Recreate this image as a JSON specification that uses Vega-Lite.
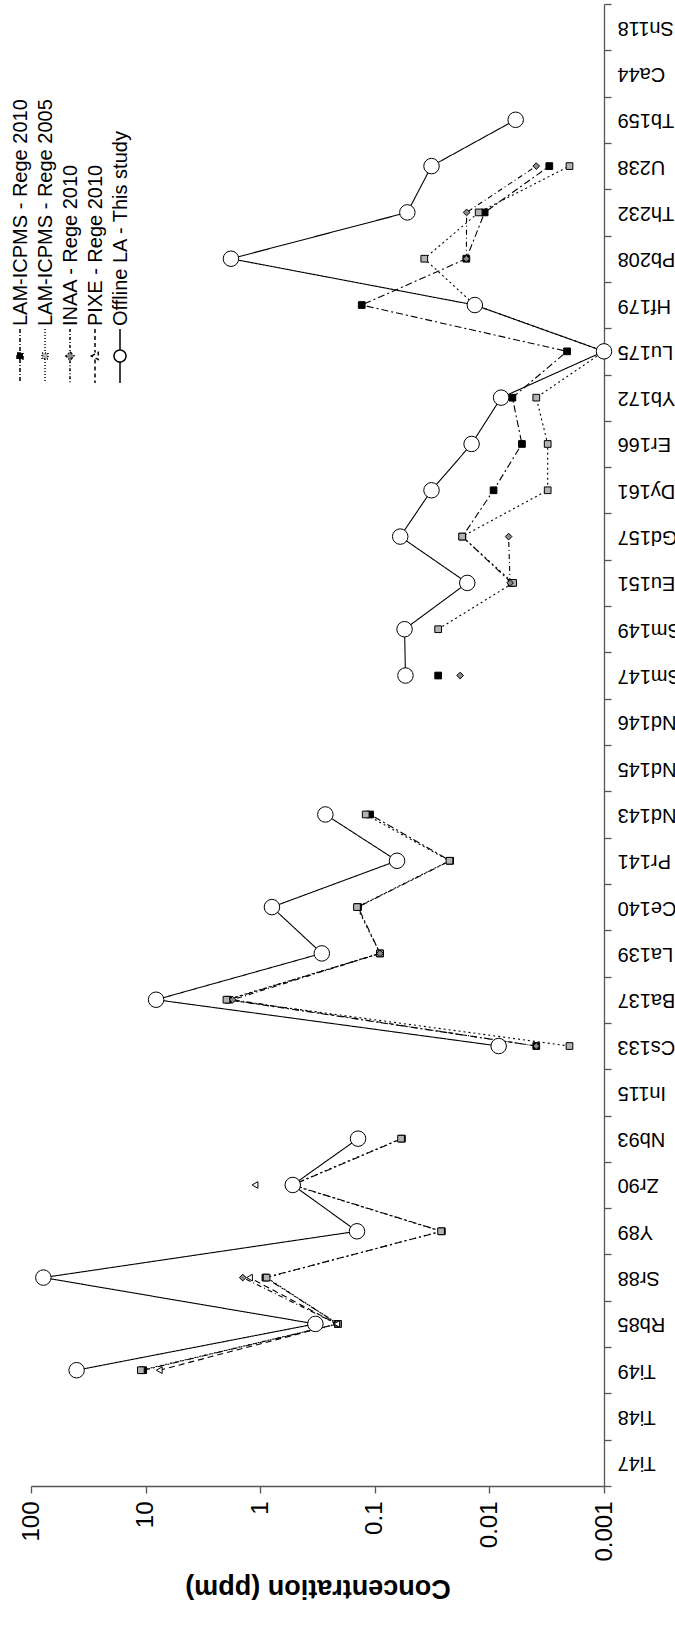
{
  "$schema": "https://vega.github.io/schema/vega-lite/v6.json",
  "width": 573,
  "height": 1482,
  "autosize": {"type": "none"},
  "padding": {"left": 31, "top": 4, "right": 71, "bottom": 156},
  "config": {"view": {"stroke": null}, "font": "Liberation Sans"},
  "data": {"values": [
    {"s": "LAM-ICPMS - Rege 2010", "iso": "Ti49", "v": 10.5},
    {"s": "LAM-ICPMS - Rege 2010", "iso": "Rb85", "v": 0.21},
    {"s": "LAM-ICPMS - Rege 2010", "iso": "Sr88", "v": 0.9},
    {"s": "LAM-ICPMS - Rege 2010", "iso": "Y89", "v": 0.026},
    {"s": "LAM-ICPMS - Rege 2010", "iso": "Zr90", "v": 0.52},
    {"s": "LAM-ICPMS - Rege 2010", "iso": "Nb93", "v": 0.058},
    {"s": "LAM-ICPMS - Rege 2010", "iso": "In115", "v": null},
    {"s": "LAM-ICPMS - Rege 2010", "iso": "Cs133", "v": 0.0039},
    {"s": "LAM-ICPMS - Rege 2010", "iso": "Ba137", "v": 1.9},
    {"s": "LAM-ICPMS - Rege 2010", "iso": "La139", "v": 0.09},
    {"s": "LAM-ICPMS - Rege 2010", "iso": "Ce140", "v": 0.14},
    {"s": "LAM-ICPMS - Rege 2010", "iso": "Pr141", "v": 0.022},
    {"s": "LAM-ICPMS - Rege 2010", "iso": "Nd143", "v": 0.11},
    {"s": "LAM-ICPMS - Rege 2010", "iso": "Nd145", "v": null},
    {"s": "LAM-ICPMS - Rege 2010", "iso": "Sm147", "v": 0.028},
    {"s": "LAM-ICPMS - Rege 2010", "iso": "Sm149", "v": null},
    {"s": "LAM-ICPMS - Rege 2010", "iso": "Eu151", "v": 0.0064},
    {"s": "LAM-ICPMS - Rege 2010", "iso": "Gd157", "v": 0.0172},
    {"s": "LAM-ICPMS - Rege 2010", "iso": "Dy161", "v": 0.0092},
    {"s": "LAM-ICPMS - Rege 2010", "iso": "Er166", "v": 0.0052},
    {"s": "LAM-ICPMS - Rege 2010", "iso": "Yb172", "v": 0.0063},
    {"s": "LAM-ICPMS - Rege 2010", "iso": "Lu175", "v": 0.0021},
    {"s": "LAM-ICPMS - Rege 2010", "iso": "Hf179", "v": 0.13},
    {"s": "LAM-ICPMS - Rege 2010", "iso": "Pb208", "v": 0.0159},
    {"s": "LAM-ICPMS - Rege 2010", "iso": "Th232", "v": 0.011},
    {"s": "LAM-ICPMS - Rege 2010", "iso": "U238", "v": 0.003},

    {"s": "LAM-ICPMS - Rege 2005", "iso": "Ti49", "v": 11},
    {"s": "LAM-ICPMS - Rege 2005", "iso": "Rb85", "v": 0.21},
    {"s": "LAM-ICPMS - Rege 2005", "iso": "Sr88", "v": 0.88},
    {"s": "LAM-ICPMS - Rege 2005", "iso": "Y89", "v": 0.0264},
    {"s": "LAM-ICPMS - Rege 2005", "iso": "Zr90", "v": 0.53},
    {"s": "LAM-ICPMS - Rege 2005", "iso": "Nb93", "v": 0.059},
    {"s": "LAM-ICPMS - Rege 2005", "iso": "In115", "v": null},
    {"s": "LAM-ICPMS - Rege 2005", "iso": "Cs133", "v": 0.002},
    {"s": "LAM-ICPMS - Rege 2005", "iso": "Ba137", "v": 1.97},
    {"s": "LAM-ICPMS - Rege 2005", "iso": "La139", "v": 0.09},
    {"s": "LAM-ICPMS - Rege 2005", "iso": "Ce140", "v": 0.143},
    {"s": "LAM-ICPMS - Rege 2005", "iso": "Pr141", "v": 0.0223},
    {"s": "LAM-ICPMS - Rege 2005", "iso": "Nd143", "v": 0.12},
    {"s": "LAM-ICPMS - Rege 2005", "iso": "Nd145", "v": null},
    {"s": "LAM-ICPMS - Rege 2005", "iso": "Sm149", "v": 0.028},
    {"s": "LAM-ICPMS - Rege 2005", "iso": "Eu151", "v": 0.0062},
    {"s": "LAM-ICPMS - Rege 2005", "iso": "Gd157", "v": 0.0173},
    {"s": "LAM-ICPMS - Rege 2005", "iso": "Dy161", "v": 0.0031},
    {"s": "LAM-ICPMS - Rege 2005", "iso": "Er166", "v": 0.0031},
    {"s": "LAM-ICPMS - Rege 2005", "iso": "Yb172", "v": 0.0039},
    {"s": "LAM-ICPMS - Rege 2005", "iso": "Lu175", "v": 0.001},
    {"s": "LAM-ICPMS - Rege 2005", "iso": "Hf179", "v": 0.0134},
    {"s": "LAM-ICPMS - Rege 2005", "iso": "Pb208", "v": 0.037},
    {"s": "LAM-ICPMS - Rege 2005", "iso": "Th232", "v": 0.0124},
    {"s": "LAM-ICPMS - Rege 2005", "iso": "U238", "v": 0.002},

    {"s": "INAA - Rege 2010", "iso": "Rb85", "v": 0.215},
    {"s": "INAA - Rege 2010", "iso": "Sr88", "v": 1.42},
    {"s": "INAA - Rege 2010", "iso": "Y89", "v": null},
    {"s": "INAA - Rege 2010", "iso": "Cs133", "v": 0.0039},
    {"s": "INAA - Rege 2010", "iso": "Ba137", "v": 1.74},
    {"s": "INAA - Rege 2010", "iso": "La139", "v": 0.09},
    {"s": "INAA - Rege 2010", "iso": "Ce140", "v": null},
    {"s": "INAA - Rege 2010", "iso": "Sm147", "v": 0.018},
    {"s": "INAA - Rege 2010", "iso": "Sm149", "v": null},
    {"s": "INAA - Rege 2010", "iso": "Eu151", "v": 0.0066},
    {"s": "INAA - Rege 2010", "iso": "Gd157", "v": 0.0068},
    {"s": "INAA - Rege 2010", "iso": "Dy161", "v": null},
    {"s": "INAA - Rege 2010", "iso": "Pb208", "v": 0.0159},
    {"s": "INAA - Rege 2010", "iso": "Th232", "v": 0.0158},
    {"s": "INAA - Rege 2010", "iso": "U238", "v": 0.0039},

    {"s": "PIXE - Rege 2010", "iso": "Ti49", "v": 7.6},
    {"s": "PIXE - Rege 2010", "iso": "Rb85", "v": 0.215},
    {"s": "PIXE - Rege 2010", "iso": "Sr88", "v": 1.24},
    {"s": "PIXE - Rege 2010", "iso": "Y89", "v": null},
    {"s": "PIXE - Rege 2010", "iso": "Zr90", "v": 1.11},

    {"s": "Offline LA - This study", "iso": "Ti49", "v": 40},
    {"s": "Offline LA - This study", "iso": "Rb85", "v": 0.33},
    {"s": "Offline LA - This study", "iso": "Sr88", "v": 78},
    {"s": "Offline LA - This study", "iso": "Y89", "v": 0.143},
    {"s": "Offline LA - This study", "iso": "Zr90", "v": 0.52},
    {"s": "Offline LA - This study", "iso": "Nb93", "v": 0.14},
    {"s": "Offline LA - This study", "iso": "In115", "v": null},
    {"s": "Offline LA - This study", "iso": "Cs133", "v": 0.0083},
    {"s": "Offline LA - This study", "iso": "Ba137", "v": 8.1},
    {"s": "Offline LA - This study", "iso": "La139", "v": 0.29},
    {"s": "Offline LA - This study", "iso": "Ce140", "v": 0.79},
    {"s": "Offline LA - This study", "iso": "Pr141", "v": 0.064},
    {"s": "Offline LA - This study", "iso": "Nd143", "v": 0.27},
    {"s": "Offline LA - This study", "iso": "Nd145", "v": null},
    {"s": "Offline LA - This study", "iso": "Sm147", "v": 0.054},
    {"s": "Offline LA - This study", "iso": "Sm149", "v": 0.055},
    {"s": "Offline LA - This study", "iso": "Eu151", "v": 0.0156},
    {"s": "Offline LA - This study", "iso": "Gd157", "v": 0.06},
    {"s": "Offline LA - This study", "iso": "Dy161", "v": 0.032},
    {"s": "Offline LA - This study", "iso": "Er166", "v": 0.0143},
    {"s": "Offline LA - This study", "iso": "Yb172", "v": 0.0079},
    {"s": "Offline LA - This study", "iso": "Lu175", "v": 0.001},
    {"s": "Offline LA - This study", "iso": "Hf179", "v": 0.0134},
    {"s": "Offline LA - This study", "iso": "Pb208", "v": 1.8},
    {"s": "Offline LA - This study", "iso": "Th232", "v": 0.052},
    {"s": "Offline LA - This study", "iso": "U238", "v": 0.032},
    {"s": "Offline LA - This study", "iso": "Tb159", "v": 0.0059}
  ]},
  "encoding": {
    "x": {
      "field": "v", "type": "quantitative",
      "scale": {"type": "log", "domain": [0.001, 100], "reverse": true, "nice": false},
      "axis": {
        "orient": "bottom", "grid": false,
        "values": [100, 10, 1, 0.1, 0.01, 0.001], "format": "~g",
        "labelAngle": 270, "labelFontSize": 24, "labelColor": "black", "labelPadding": 8,
        "labelFlush": false, "labelOverlap": false,
        "tickSize": 7, "tickColor": "#555", "domainColor": "#555", "domainWidth": 1.3, "tickWidth": 1.3,
        "title": "Concentration (ppm)", "titleFontSize": 27, "titleFontWeight": "bold",
        "titleAngle": 180, "titleColor": "black", "titlePadding": 12, "titleBaseline": "bottom"
      }
    },
    "y": {
      "field": "iso", "type": "nominal",
      "scale": {"type": "band", "paddingInner": 0, "paddingOuter": 0,
        "domain": ["Sn118", "Ca44", "Tb159", "U238", "Th232", "Pb208", "Hf179", "Lu175", "Yb172", "Er166", "Dy161", "Gd157", "Eu151", "Sm149", "Sm147", "Nd146", "Nd145", "Nd143", "Pr141", "Ce140", "La139", "Ba137", "Cs133", "In115", "Nb93", "Zr90", "Y89", "Sr88", "Rb85", "Ti49", "Ti48", "Ti47"]},
      "axis": {
        "orient": "right", "grid": false, "title": null,
        "labelAngle": 180, "labelAlign": "right", "labelBaseline": "middle",
        "labelFontSize": 20, "labelColor": "black", "labelPadding": 6,
        "tickBand": "extent", "tickSize": 7, "tickColor": "#555", "domainColor": "#555", "domainWidth": 1.3, "tickWidth": 1.3
      }
    }
  },
  "layer": [
    {
      "mark": {"type": "line", "color": "black", "strokeWidth": 1.1, "invalid": "break-paths-show-domains"},
      "encoding": {
        "strokeDash": {"field": "s", "type": "nominal", "legend": null,
          "scale": {"domain": ["LAM-ICPMS - Rege 2010", "LAM-ICPMS - Rege 2005", "INAA - Rege 2010", "PIXE - Rege 2010", "Offline LA - This study"],
            "range": [[7, 3, 2, 3], [2, 3], [5, 3, 1, 3], [6, 4], [1, 0]]}},
        "order": {"value": null}
      }
    },
    {
      "mark": {"type": "point", "filled": true, "stroke": "black", "strokeWidth": 1, "opacity": 1, "invalid": "filter"},
      "encoding": {
        "shape": {"field": "s", "type": "nominal", "legend": null,
          "scale": {"domain": ["LAM-ICPMS - Rege 2010", "LAM-ICPMS - Rege 2005", "INAA - Rege 2010", "PIXE - Rege 2010", "Offline LA - This study"],
            "range": ["square", "square", "diamond", "triangle-left", "circle"]}},
        "fill": {"field": "s", "type": "nominal", "legend": null,
          "scale": {"domain": ["LAM-ICPMS - Rege 2010", "LAM-ICPMS - Rege 2005", "INAA - Rege 2010", "PIXE - Rege 2010", "Offline LA - This study"],
            "range": ["black", "#b3b3b3", "#8a8a8a", "white", "white"]}},
        "size": {"condition": {"test": "datum.s === 'Offline LA - This study'", "value": 240}, "value": 45}
      }
    },
    {
      "transform": [{"filter": "false"}],
      "mark": {"type": "point", "filled": true, "stroke": "black", "strokeWidth": 1, "opacity": 1, "size": 36},
      "encoding": {
        "shape": {"field": "s", "type": "nominal",
          "scale": {"domain": ["LAM-ICPMS - Rege 2010", "LAM-ICPMS - Rege 2005", "INAA - Rege 2010", "PIXE - Rege 2010", "Offline LA - This study"],
            "range": ["M0,-9V-1M0,1V9M-1,-1H1V1H-1Z", "M0,-9V-1M0,1V9M-1,-1H1V1H-1Z", "M0,-9V-1.4M0,1.4V9M0,-1.4L1.4,0L0,1.4L-1.4,0Z", "M0,-9V-1.2M0,1.2V9M-1.2,0L1.1,-1.2L1.1,1.2Z", "M0,-9V-2M0,2V9M-2,0A2,2 0 1,1 2,0A2,2 0 1,1 -2,0Z"]},
          "legend": {"title": null, "orient": "none", "legendX": -21, "legendY": 342, "direction": "horizontal", "columns": 5,
            "symbolSize": 36, "labelFont": "Liberation Sans", "labelFontSize": 20, "labelColor": "black", "labelLimit": 400, "labelOffset": 0,
            "columnPadding": 3, "padding": 0,
            "encoding": {"labels": {"angle": {"value": -90}, "dx": {"value": 30}, "dy": {"value": -9}}}}},
        "fill": {"field": "s", "type": "nominal",
          "scale": {"domain": ["LAM-ICPMS - Rege 2010", "LAM-ICPMS - Rege 2005", "INAA - Rege 2010", "PIXE - Rege 2010", "Offline LA - This study"],
            "range": ["black", "#b3b3b3", "#8a8a8a", "white", "white"]},
          "legend": {"title": null, "orient": "none", "legendX": -21, "legendY": 342, "direction": "horizontal", "columns": 5,
            "symbolSize": 36, "labelFont": "Liberation Sans", "labelFontSize": 20, "labelColor": "black", "labelLimit": 400, "labelOffset": 0,
            "columnPadding": 3, "padding": 0,
            "encoding": {"labels": {"angle": {"value": -90}, "dx": {"value": 30}, "dy": {"value": -9}}}}},
        "strokeDash": {"field": "s", "type": "nominal",
          "scale": {"domain": ["LAM-ICPMS - Rege 2010", "LAM-ICPMS - Rege 2005", "INAA - Rege 2010", "PIXE - Rege 2010", "Offline LA - This study"],
            "range": [[4, 2, 1, 2], [1, 2], [3, 2, 1, 2], [4, 3], [1, 0]]},
          "legend": {"title": null, "orient": "none", "legendX": -21, "legendY": 342, "direction": "horizontal", "columns": 5,
            "symbolSize": 36, "labelFont": "Liberation Sans", "labelFontSize": 20, "labelColor": "black", "labelLimit": 400, "labelOffset": 0,
            "columnPadding": 3, "padding": 0,
            "encoding": {"labels": {"angle": {"value": -90}, "dx": {"value": 30}, "dy": {"value": -9}}}}}
      }
    }
  ],
  "resolve": {"scale": {"shape": "independent", "fill": "independent", "strokeDash": "independent"}}
}
